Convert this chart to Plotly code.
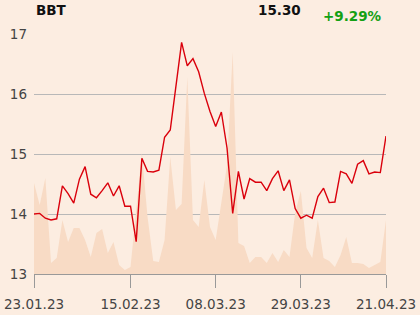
import plotly.graph_objects as go

prices = [14.00, 14.01, 13.93, 13.90, 13.92, 14.47, 14.34, 14.18, 14.58, 14.79,
          14.33, 14.27, 14.39, 14.52, 14.30, 14.47, 14.13, 14.13, 13.54, 14.93,
          14.71, 14.70, 14.73, 15.28, 15.40, 16.12, 16.86, 16.47, 16.59, 16.37,
          16.01, 15.71, 15.46, 15.70, 15.10, 14.01, 14.71, 14.25, 14.59, 14.53,
          14.53, 14.39, 14.59, 14.72, 14.39, 14.57, 14.09, 13.93, 13.98, 13.93,
          14.29, 14.43, 14.19, 14.20, 14.71, 14.67, 14.51, 14.83, 14.89, 14.67,
          14.70, 14.69, 15.30]

volumes = [91, 69, 96, 11, 16, 54, 32, 46, 46, 34,
           17, 41, 45, 21, 32, 9, 4, 7, 64, 121,
           57, 13, 12, 34, 117, 64, 70, 197, 54, 47,
           94, 47, 34, 74, 109, 222, 31, 28, 11, 17,
           17, 11, 21, 12, 24, 17, 61, 83, 26, 16,
           54, 16, 13, 7, 19, 37, 11, 11, 10, 6,
           9, 12, 54]

tick_idx = [0, 17, 32, 47, 62]
tick_text = ["23.01.23", "15.02.23", "08.03.23", "29.03.23", "21.04.23"]
y_ticks = [13, 14, 15, 16, 17]

title = "BBT"
last_price = "15.30"
change = "+9.29%"

y_min, y_max = 13, 17
vol_max = 240  # volume scale shown over the full plot height

x = list(range(len(prices)))
vol_scaled = [y_min + v / vol_max * (y_max - y_min) for v in volumes]

fig = go.Figure()
fig.add_trace(go.Scatter(x=x, y=vol_scaled, mode="lines",
                         line=dict(width=0, color="rgb(248,219,197)"),
                         fill="tozeroy", fillcolor="rgb(248,219,197)",
                         hoverinfo="skip", showlegend=False))
fig.add_trace(go.Scatter(x=x, y=prices, mode="lines",
                         line=dict(color="rgb(218,0,12)", width=1.4),
                         showlegend=False))

bg = "rgb(252,237,225)"
font = dict(family="DejaVu Sans", size=13.5, color="#444444")
fig.update_layout(
    width=420, height=315,
    margin=dict(l=34, r=34, t=34, b=41),
    paper_bgcolor=bg, plot_bgcolor=bg,
    font=font,
    xaxis=dict(range=[0, len(prices) - 1], tickmode="array", tickvals=tick_idx,
               ticktext=tick_text, showgrid=False, zeroline=False,
               showline=True, linecolor="#999999", linewidth=1,
               ticks="outside", ticklen=13, tickcolor="#999999", tickwidth=1,
               ticklabelstandoff=5, tickfont=font, automargin=False),
    yaxis=dict(range=[y_min, y_max], tickvals=y_ticks, showgrid=True,
               gridcolor="#b8b8b8", gridwidth=1, zeroline=False, showline=False,
               ticks="", ticklabelstandoff=6, tickfont=font, automargin=False,
               layer="below traces"),
)

fig.add_annotation(text="<b>" + title + "</b>", xref="paper", yref="paper",
                   x=0, y=1 + (34 - 10) / 240, xanchor="left", yanchor="middle",
                   showarrow=False, font=dict(family="DejaVu Sans", size=13.5, color="#111111"))
fig.add_annotation(text="<b>" + last_price + "</b>", xref="paper", yref="paper",
                   x=(303 - 34) / 352, y=1 + (34 - 9.5) / 240, xanchor="right", yanchor="middle",
                   showarrow=False, font=dict(family="DejaVu Sans", size=13.5, color="#111111"))
fig.add_annotation(text="<b>" + change + "</b>", xref="paper", yref="paper",
                   x=(321 - 34) / 352, y=1 + (34 - 16) / 240, xanchor="left", yanchor="middle",
                   showarrow=False, font=dict(family="DejaVu Sans", size=13.5, color="rgb(20,160,20)"))

fig.write_html("out.html")
